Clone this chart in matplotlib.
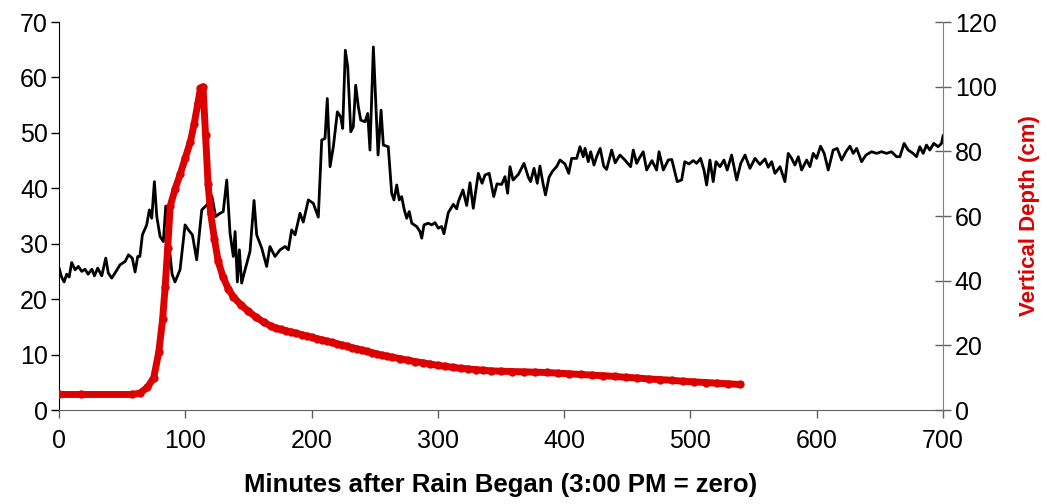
import matplotlib
matplotlib.use('Agg')
import matplotlib.pyplot as plt

# black trace (left axis)
minutes = [0, 2, 4, 6, 8, 10, 12.7, 15.3, 18, 20.6, 23, 26, 28, 30.6, 33.8, 37, 39,
           41.7, 44.3, 48.3, 52.3, 55, 58, 60.2, 62.3, 64, 66, 69.4, 71.5, 73.4, 75.5,
           77.4, 80, 82.6, 84.5, 87, 89.5, 91.8, 95.8, 99.8, 102.4, 105.6, 109, 113,
           117, 121, 124, 127.5, 130, 132.8, 135.4, 138, 139.4, 141.2, 142.8, 144.6,
           147.3, 151.2, 154.4, 156.5, 160.5, 164.4, 167, 171, 175, 179, 181.6, 184.2,
           186.9, 190.8, 193.4, 197.4, 201.3, 205.3, 208, 210.6, 212.4, 214.6, 217.2,
           220.4, 223, 224.6, 226.7, 228.6, 231, 233, 234.9, 237, 238.9, 242.3, 244.4,
           246.2, 248.9, 251, 252.6, 255, 256.8, 260.7, 263.4, 265.2, 267.4, 269.4,
           271.3, 273.4, 275.3, 277.3, 279.3, 283.2, 285.8, 287.2, 289, 292.4, 295.1,
           297.7, 300.3, 303, 304.8, 308.2, 312.2, 314.9, 316.2, 319.8, 322.8, 325.4,
           328, 332, 335, 337.3, 340.6, 344.2, 346.8, 350.5, 353.1, 355.2, 357.1,
           359.5, 363.7, 368.2, 371.6, 373.4, 376.1, 378.7, 380.8, 383.3, 385.2, 388,
           390.8, 394, 396.7, 400.6, 403.6, 405.9, 409.9, 412.5, 415.1, 416.5, 419.1,
           421, 423.6, 425.7, 428.5, 431.3, 433.6, 437.6, 440.4, 444.2, 448.1, 452.6,
           454.7, 457.4, 459.4, 462.6, 465.3, 469.5, 473.2, 475.1, 478.5, 482.4, 485.2,
           489.5, 493, 495.5, 498.8, 502.2, 504.9, 508, 510.7, 512.8, 515.4, 518,
           520.2, 523.4, 526.5, 529.1, 532.6, 536.6, 539.8, 543.2, 547.1, 551.1, 555,
           559, 561.6, 564.3, 566.9, 570.9, 574.8, 577.4, 580.1, 582.7, 585.4, 588,
           592, 594.6, 597.2, 599.9, 603, 605.9, 609.1, 613, 616.2, 619.7, 623.1,
           626.3, 628.9, 631.6, 635.5, 639, 643.4, 647.4, 651.3, 655.3, 659.2, 663.2,
           665.8, 669.2, 672.4, 676.3, 679, 681.6, 684.3, 686.9, 689.5, 692.7, 696.1,
           698.8, 700]
black_vals = [25.6, 24.0, 23.1, 24.5, 24.0, 26.6, 25.3, 25.9, 25.0, 25.4, 24.5, 25.4,
              24.2, 25.6, 24.2, 27.4, 24.7, 23.8, 24.7, 26.2, 26.8, 28.0, 27.4, 24.9,
              27.7, 27.7, 31.6, 33.4, 36.1, 34.6, 41.2, 34.9, 31.3, 30.4, 36.8, 30.0,
              24.5, 23.1, 25.3, 33.4, 32.5, 31.6, 27.1, 36.1, 37.0, 38.6, 34.9, 35.5,
              35.8, 41.5, 31.9, 27.7, 32.2, 23.1, 28.9, 22.9, 25.3, 28.6, 37.8, 31.6,
              29.2, 25.9, 29.5, 27.7, 28.9, 29.5, 28.9, 32.5, 31.6, 35.5, 33.9, 37.9,
              37.3, 34.8, 48.7, 49.0, 56.2, 43.9, 47.5, 53.8, 52.9, 50.8, 64.9, 61.9,
              50.2, 51.1, 58.6, 54.7, 52.3, 52.0, 53.5, 46.9, 65.5, 54.4, 46.0, 54.1,
              47.8, 47.5, 39.1, 37.9, 40.6, 37.9, 38.5, 36.1, 34.6, 35.8, 33.7, 33.1,
              32.2, 31.0, 33.4, 33.7, 33.4, 33.8, 32.8, 33.1, 31.8, 35.6, 37.1, 36.3,
              37.6, 39.7, 36.9, 41.0, 36.4, 42.7, 40.9, 42.4, 42.7, 38.5, 40.8, 40.7,
              42.1, 39.1, 43.9, 41.5, 42.5, 44.5, 42.0, 41.2, 43.6, 40.9, 44.0, 40.8,
              38.8, 42.0, 43.1, 43.9, 45.1, 44.4, 42.7, 45.4, 45.4, 47.5, 45.7, 47.2,
              44.8, 46.6, 44.2, 45.7, 47.2, 44.0, 43.4, 46.9, 44.6, 46.0, 45.1, 43.9,
              46.9, 44.5, 45.4, 46.6, 43.3, 45.0, 43.3, 46.6, 43.3, 45.1, 45.2, 41.2,
              41.5, 44.8, 44.4, 45.0, 44.5, 45.4, 43.3, 40.6, 45.1, 41.2, 44.8, 43.9,
              45.1, 43.3, 46.0, 41.5, 44.5, 46.0, 43.6, 45.4, 44.3, 45.3, 43.8, 44.8,
              42.7, 43.9, 41.2, 46.3, 45.4, 44.2, 45.7, 43.3, 45.1, 43.9, 46.3, 45.4,
              47.6, 46.3, 43.3, 46.9, 47.2, 45.1, 46.6, 47.6, 46.3, 47.2, 44.8, 46.0,
              46.6, 46.3, 46.6, 46.3, 46.6, 45.7, 45.7, 48.1, 46.9, 46.3, 45.7, 47.5,
              46.3, 47.8, 46.9, 48.1, 47.5, 48.1, 49.5]

# red trace: vertical depth (cm), right axis
depth_min = [0, 17, 58, 64, 70, 75, 79, 82, 84, 86, 88, 92, 96, 100, 104, 107, 110,
             112, 114, 116, 118, 120, 123, 126, 130, 134, 138, 144, 150, 156, 162, 168,
             172, 176, 180, 184, 188, 192, 196, 200, 204, 208, 212, 216, 220, 224, 228,
             232, 236, 240, 244, 248, 252, 256, 260, 264, 270, 276, 282, 288, 294, 300,
             306, 312, 318, 324, 330, 336, 342, 350, 359, 368, 377, 386, 395, 404, 413,
             422, 431, 440, 449, 458, 467, 476, 485, 494, 503, 512, 521, 530, 539]
depth_cm = [4.8, 4.8, 4.8, 5.2, 7.0, 10.0, 18.0, 28.0, 38.0, 50.0, 63.0, 68.5, 73.0,
            78.0, 83.0, 88.5, 95.0, 99.5, 100.0, 85.0, 70.0, 61.0, 53.0, 46.0, 41.0,
            37.5, 35.0, 32.5, 30.5, 28.7, 27.2, 25.9, 25.3, 24.9, 24.5, 24.1, 23.7,
            23.3, 22.9, 22.5, 22.1, 21.7, 21.3, 20.9, 20.5, 20.1, 19.7, 19.3, 18.9,
            18.5, 18.1, 17.7, 17.3, 16.9, 16.6, 16.3, 15.9, 15.4, 15.0, 14.6, 14.2,
            13.8, 13.5, 13.2, 12.9, 12.7, 12.5, 12.3, 12.1, 12.0, 11.9, 11.8, 11.7,
            11.6, 11.4, 11.2, 11.0, 10.8, 10.6, 10.4, 10.1, 9.9, 9.6, 9.4, 9.2, 8.9,
            8.7, 8.5, 8.3, 8.1, 7.9]

plt.rcParams['font.family'] = ['Liberation Sans', 'DejaVu Sans']

fig = plt.figure(figsize=(10.47, 5.04), dpi=100)
ax = fig.add_axes([0.0564, 0.1865, 0.8443, 0.7698])
ax2 = ax.twinx()

ax.plot(minutes, black_vals, color='black', lw=2.0)
ax2.plot(depth_min, depth_cm, color='#dd0000', lw=5, marker='o', ms=6,
         markeredgewidth=0)

ax.set_xlim(0, 700)
ax.set_ylim(0, 70)
ax2.set_ylim(0, 120)
ax.set_xticks(range(0, 701, 100))
ax.set_yticks(range(0, 71, 10))
ax2.set_yticks(range(0, 121, 20))

for a in (ax, ax2):
    a.spines['top'].set_visible(False)
ax.spines['right'].set_visible(False)
ax2.spines['left'].set_visible(False)
ax2.spines['bottom'].set_visible(False)
ax.spines['left'].set_color('black')
ax.spines['bottom'].set_color('#606060')
ax2.spines['right'].set_color('#808080')

ax.tick_params(axis='y', direction='out', length=6, width=1, labelsize=18, pad=2)
ax.tick_params(axis='x', direction='out', length=6, width=1, labelsize=18, pad=8,
               color='#606060')
ax2.tick_params(axis='y', direction='inout', length=11, width=1, labelsize=18, pad=3,
                color='#606060')

ax.set_xlabel('Minutes after Rain Began (3:00 PM = zero)', fontsize=18.5,
              fontweight='bold', labelpad=14)
ax2.set_ylabel('Vertical Depth (cm)', fontsize=16, fontweight='bold',
               color='#dd0000', labelpad=16)

fig.savefig('out.png', dpi=100)
